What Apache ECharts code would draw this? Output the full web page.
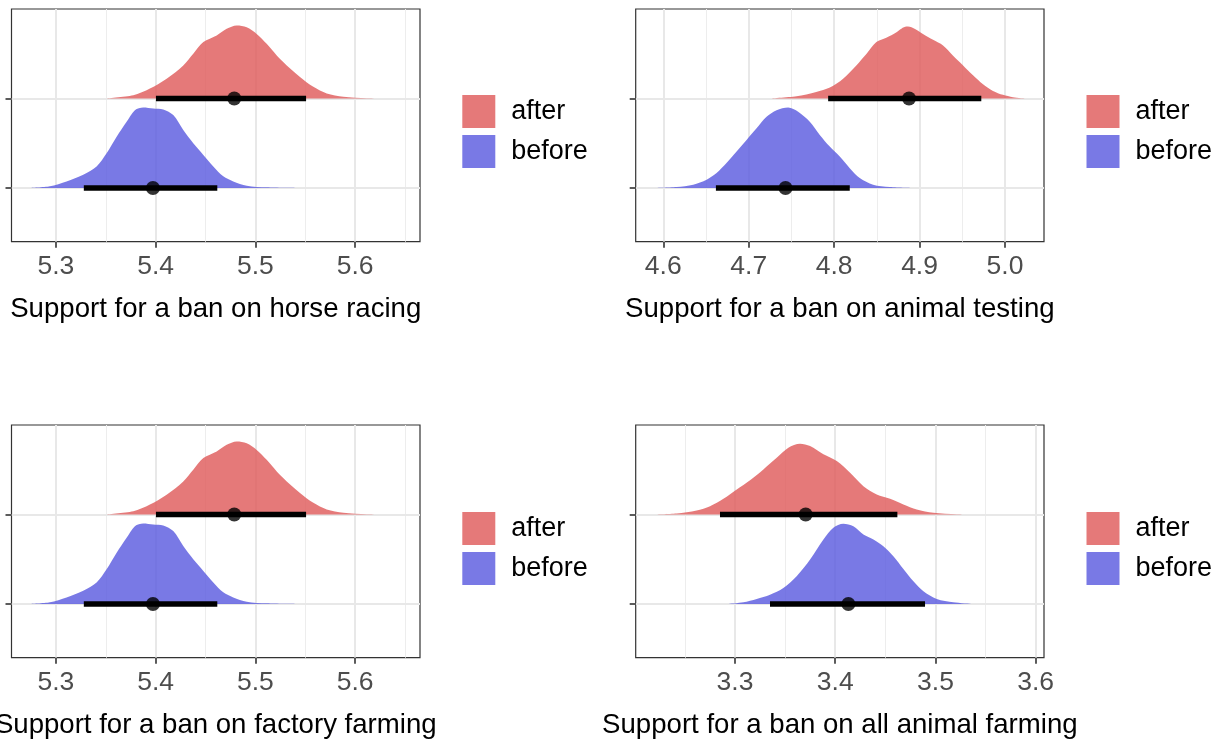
<!DOCTYPE html>
<html>
<head>
<meta charset="utf-8">
<script src="https://cdn.jsdelivr.net/npm/echarts@6/dist/echarts.min.js"></script>
<style>
  html, body { margin: 0; padding: 0; background: #ffffff; }
  #chart { width: 1225px; height: 740px; }
</style>
</head>
<body>
<div id="chart"></div>
<script>
// ---- Data ---------------------------------------------------------------
const groups = ['after', 'before'];
const panelTitles = [
  'Support for a ban on horse racing',
  'Support for a ban on animal testing',
  'Support for a ban on factory farming',
  'Support for a ban on all animal farming'
];

// Posterior densities (x = support score, d = slab height, scaled so the tallest slab is 0.9)
const horseAfterX  = [5.3491, 5.3776, 5.3943, 5.411, 5.4277, 5.4377, 5.4478, 5.4612, 5.4712, 5.4812, 5.4913, 5.5013, 5.5113, 5.5214, 5.5314, 5.5447, 5.5581, 5.5715, 5.5882, 5.6116, 5.6483];
const horseAfterD  = [0, 0.037, 0.111, 0.222, 0.37, 0.5, 0.63, 0.704, 0.778, 0.815, 0.796, 0.722, 0.611, 0.481, 0.37, 0.241, 0.13, 0.056, 0.019, 0.004, 0];
const horseBeforeX = [5.2739, 5.294, 5.3107, 5.3274, 5.3408, 5.3508, 5.3609, 5.3709, 5.3792, 5.3876, 5.3976, 5.4076, 5.4177, 5.4277, 5.4377, 5.4478, 5.4578, 5.4678, 5.4778, 5.4913, 5.5113, 5.5397];
const horseBeforeD = [0, 0.019, 0.074, 0.148, 0.241, 0.389, 0.574, 0.741, 0.87, 0.9, 0.889, 0.878, 0.815, 0.648, 0.5, 0.37, 0.241, 0.13, 0.074, 0.026, 0.007, 0];
const horseAfterCI  = [5.4003, 5.5508];
const horseBeforeCI = [5.328, 5.4618];
const horsePoints   = [5.4788, 5.3973];   // after, before

const testingAfterX  = [4.7228, 4.756, 4.779, 4.795, 4.8105, 4.826, 4.838, 4.8495, 4.861, 4.873, 4.8846, 4.8924, 4.904, 4.9158, 4.9275, 4.939, 4.951, 4.9626, 4.9743, 4.986, 4.9977, 5.0094, 5.025];
const testingAfterD  = [0, 0.026, 0.074, 0.122, 0.222, 0.37, 0.5, 0.63, 0.678, 0.741, 0.804, 0.789, 0.722, 0.656, 0.593, 0.481, 0.37, 0.259, 0.159, 0.085, 0.041, 0.015, 0];
const testingBeforeX = [4.5883, 4.6156, 4.635, 4.6507, 4.6624, 4.674, 4.6858, 4.6975, 4.7092, 4.7209, 4.7326, 4.7462, 4.7579, 4.7715, 4.7832, 4.7949, 4.8066, 4.8183, 4.83, 4.8456, 4.8651, 4.8943];
const testingBeforeD = [0, 0.011, 0.037, 0.093, 0.167, 0.278, 0.407, 0.537, 0.667, 0.796, 0.87, 0.9, 0.852, 0.741, 0.593, 0.463, 0.352, 0.222, 0.111, 0.037, 0.011, 0];
const testingAfterCI  = [4.793, 4.9723];
const testingBeforeCI = [4.6616, 4.8183];
const testingPoints   = [4.8877, 4.7431];

const factoryAfterX  = [5.3491, 5.3776, 5.3943, 5.411, 5.4277, 5.4377, 5.4478, 5.4612, 5.4712, 5.4812, 5.4913, 5.5013, 5.5113, 5.5214, 5.5314, 5.5447, 5.5581, 5.5715, 5.5882, 5.6116, 5.6483];
const factoryAfterD  = [0, 0.037, 0.111, 0.222, 0.37, 0.5, 0.63, 0.704, 0.778, 0.815, 0.796, 0.722, 0.611, 0.481, 0.37, 0.241, 0.13, 0.056, 0.019, 0.004, 0];
const factoryBeforeX = [5.2739, 5.294, 5.3107, 5.3274, 5.3408, 5.3508, 5.3609, 5.3709, 5.3792, 5.3876, 5.3976, 5.4076, 5.4177, 5.4277, 5.4377, 5.4478, 5.4578, 5.4678, 5.4778, 5.4913, 5.5113, 5.5397];
const factoryBeforeD = [0, 0.019, 0.074, 0.148, 0.241, 0.389, 0.574, 0.741, 0.87, 0.9, 0.889, 0.878, 0.815, 0.648, 0.5, 0.37, 0.241, 0.13, 0.074, 0.026, 0.007, 0];
const factoryAfterCI  = [5.4003, 5.5508];
const factoryBeforeCI = [5.328, 5.4618];
const factoryPoints   = [5.4788, 5.3973];

const farmingAfterX  = [3.2185, 3.2418, 3.2617, 3.2751, 3.2884, 3.3017, 3.315, 3.3283, 3.3416, 3.3532, 3.3649, 3.3749, 3.3882, 3.4015, 3.4148, 3.4281, 3.4414, 3.4547, 3.468, 3.4813, 3.498, 3.5212, 3.5478];
const farmingAfterD  = [0, 0.011, 0.045, 0.093, 0.175, 0.28, 0.384, 0.504, 0.634, 0.746, 0.791, 0.765, 0.672, 0.597, 0.466, 0.317, 0.224, 0.175, 0.112, 0.056, 0.019, 0.004, 0];
const farmingBeforeX = [3.2933, 3.3083, 3.3216, 3.3349, 3.3482, 3.3615, 3.3749, 3.3882, 3.3981, 3.4081, 3.4181, 3.4281, 3.4381, 3.448, 3.458, 3.468, 3.478, 3.488, 3.5013, 3.5179, 3.5362];
const farmingBeforeD = [0, 0.019, 0.056, 0.104, 0.179, 0.31, 0.496, 0.72, 0.851, 0.896, 0.869, 0.776, 0.72, 0.646, 0.534, 0.392, 0.254, 0.142, 0.056, 0.019, 0];
const farmingAfterCI  = [3.285, 3.462];
const farmingBeforeCI = [3.3349, 3.4896];
const farmingPoints   = [3.3705, 3.4131];

// Axis ticks per panel
const xMin = [5.2555, 4.5677, 5.2555, 3.2009];
const xMax = [5.665, 5.0457, 5.665, 3.6083];
const majorTicks = [
  [5.3, 5.4, 5.5, 5.6],
  [4.6, 4.7, 4.8, 4.9, 5.0],
  [5.3, 5.4, 5.5, 5.6],
  [3.3, 3.4, 3.5, 3.6]
];
const minorTicks = [
  [5.35, 5.45, 5.55, 5.65],
  [4.65, 4.75, 4.85, 4.95],
  [5.35, 5.45, 5.55, 5.65],
  [3.25, 3.35, 3.45, 3.55]
];
const groupRows = [2, 1];   // after sits on row 2, before on row 1

// ---- Chart --------------------------------------------------------------
const panels = [
  { afterX: horseAfterX, afterD: horseAfterD, beforeX: horseBeforeX, beforeD: horseBeforeD,
    afterCI: horseAfterCI, beforeCI: horseBeforeCI, points: horsePoints },
  { afterX: testingAfterX, afterD: testingAfterD, beforeX: testingBeforeX, beforeD: testingBeforeD,
    afterCI: testingAfterCI, beforeCI: testingBeforeCI, points: testingPoints },
  { afterX: factoryAfterX, afterD: factoryAfterD, beforeX: factoryBeforeX, beforeD: factoryBeforeD,
    afterCI: factoryAfterCI, beforeCI: factoryBeforeCI, points: factoryPoints },
  { afterX: farmingAfterX, afterD: farmingAfterD, beforeX: farmingBeforeX, beforeD: farmingBeforeD,
    afterCI: farmingAfterCI, beforeCI: farmingBeforeCI, points: farmingPoints }
];

const FONT = '"Liberation Sans", Arial, Helvetica, sans-serif';
const fill = { after: 'rgba(222, 88, 88, 0.8)', before: 'rgba(88, 88, 222, 0.8)' };
const gridBoxes = [
  { left: 11.5,  top: 9,   width: 408.5, height: 232.7 },
  { left: 635.7, top: 9,   width: 408.3, height: 232.7 },
  { left: 11.5,  top: 425, width: 408.5, height: 232.7 },
  { left: 635.7, top: 425, width: 408.3, height: 232.7 }
];
const legendBoxes = [
  { left: 462.3, top: 95 },
  { left: 1086.5, top: 95 },
  { left: 462.3, top: 512 },
  { left: 1086.5, top: 512 }
];

const grid = gridBoxes.map(b => Object.assign({
  show: true, borderColor: '#333333', borderWidth: 1.2, backgroundColor: 'transparent',
  containLabel: false, outerBoundsMode: 'none'
}, b));

const xAxis = panels.map((p, i) => ({
  gridIndex: i, type: 'value', min: xMin[i], max: xMax[i],
  axisLine: { show: false },
  splitLine: { show: false },
  axisTick: { show: true, customValues: majorTicks[i], length: 6,
              lineStyle: { color: '#333333', width: 1.6 } },
  axisLabel: { customValues: majorTicks[i], formatter: v => v.toFixed(1),
               fontSize: 26.5, color: '#4d4d4d', fontFamily: FONT, margin: 11 },
  name: panelTitles[i], nameLocation: 'middle', nameGap: 54,
  nameTextStyle: { fontSize: 27.6, color: '#000000', fontFamily: FONT }
}));

const yAxis = panels.map((p, i) => ({
  gridIndex: i, type: 'value', min: 0.4, max: 3.0,
  axisLine: { show: false },
  splitLine: { show: false },
  axisTick: { show: true, customValues: groupRows, length: 6,
              lineStyle: { color: '#333333', width: 1.6 } },
  axisLabel: { show: false, customValues: groupRows }
}));

const series = [];
// legend keys
groups.forEach(g => series.push({
  name: g, type: 'bar', data: [], xAxisIndex: 0, yAxisIndex: 0,
  itemStyle: { color: fill[g] }
}));

panels.forEach((p, i) => {
  const ax = { xAxisIndex: i, yAxisIndex: i };
  // background grid
  series.push(Object.assign({
    type: 'line', data: [[xMin[i], 0.4]], symbol: 'none', silent: true, z: 0,
    lineStyle: { width: 0 },
    markLine: {
      silent: true, symbol: ['none', 'none'], animation: false, z: 0,
      label: { show: false },
      data: [
        ...minorTicks[i].map(v => ({ xAxis: v, lineStyle: { color: '#ededed', width: 1, type: 'solid' } })),
        ...majorTicks[i].map(v => ({ xAxis: v, lineStyle: { color: '#e8e8e8', width: 2, type: 'solid' } })),
        ...groupRows.map(v => ({ yAxis: v, lineStyle: { color: '#e8e8e8', width: 2, type: 'solid' } }))
      ]
    }
  }, ax));

  // slabs
  [['after', p.afterX, p.afterD, 2], ['before', p.beforeX, p.beforeD, 1]].forEach(([g, xs, ds, row]) => {
    series.push(Object.assign({
      name: g + ' density', type: 'line', silent: true, z: 2,
      data: xs.map((x, k) => [x, row + ds[k]]),
      smooth: 0.3, symbol: 'none',
      lineStyle: { width: 0, color: fill[g] },
      itemStyle: { color: fill[g] },
      areaStyle: { color: fill[g], opacity: 1, origin: row }
    }, ax));
  });

  // intervals
  [[p.afterCI, 2], [p.beforeCI, 1]].forEach(([ci, row]) => {
    series.push(Object.assign({
      type: 'line', silent: true, z: 3, symbol: 'none',
      data: [[ci[0], row], [ci[1], row]],
      lineStyle: { color: '#000000', width: 5.5, cap: 'butt' }
    }, ax));
  });

  // point estimates
  series.push(Object.assign({
    type: 'scatter', silent: true, z: 4, symbolSize: 14,
    itemStyle: { color: '#000000' },
    data: [[p.points[0], 2], [p.points[1], 1]]
  }, ax));
});

const legend = legendBoxes.map(b => ({
  data: groups, orient: 'vertical', left: b.left, top: b.top, padding: 0,
  itemWidth: 33, itemHeight: 33, itemGap: 7, icon: 'rect', selectedMode: false,
  textStyle: { fontSize: 27, color: '#000000', fontFamily: FONT, padding: [5, 0, 0, 11] }
}));

const chart = echarts.init(document.getElementById('chart'), null, { renderer: 'canvas' });
chart.setOption({
  animation: false,
  backgroundColor: '#ffffff',
  textStyle: { fontFamily: FONT },
  grid, xAxis, yAxis, legend, series
});
</script>
</body>
</html>
